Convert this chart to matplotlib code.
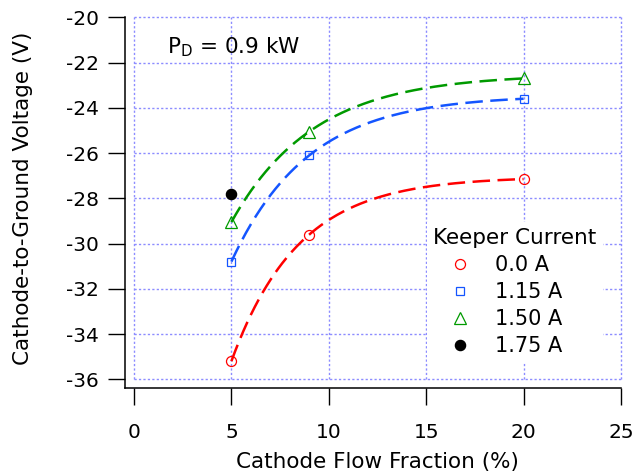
import numpy as np
import matplotlib
matplotlib.use("Agg")
import matplotlib.pyplot as plt

# ---- data ----
flow = [5, 9, 20]
v_0A = [-35.2, -29.6, -27.15]
v_115A = [-30.8, -26.1, -23.6]
v_150A = [-29.05, -25.05, -22.7]
flow_175 = [5]
v_175A = [-27.8]

series_labels = ["0.0 A", "1.15 A", "1.50 A", "1.75 A"]
xticks = [0, 5, 10, 15, 20, 25]
yticks = [-36, -34, -32, -30, -28, -26, -24, -22, -20]

RED, BLUE, GREEN = "#ff0000", "#1455ff", "#009a00"
GRID = "#8c8cff"

plt.rcParams["font.family"] = ["DejaVu Sans"]
plt.rcParams["mathtext.fontset"] = "dejavusans"
plt.rcParams["axes.unicode_minus"] = False


def exp_fit(x, y):
    """Fit y = y0 + A*exp(-k x) (like an Igor exp fit) and return a smooth curve."""
    x = np.asarray(x, float)
    y = np.asarray(y, float)
    best = None
    for k in np.linspace(0.005, 1.5, 3000):
        M = np.column_stack([np.ones_like(x), np.exp(-k * x)])
        coef, *_ = np.linalg.lstsq(M, y, rcond=None)
        r = np.sum((M @ coef - y) ** 2)
        if best is None or r < best[0]:
            best = (r, k, coef)
    _, k, coef = best
    xs = np.linspace(x.min(), x.max(), 300)
    return xs, coef[0] + coef[1] * np.exp(-k * xs)


W, H, DPI = 639, 472, 100
fig = plt.figure(figsize=(W / DPI, H / DPI), dpi=DPI)
ax = fig.add_axes([134 / W, 1 - 379.3 / H, (621 - 134) / W, (379.3 - 17.3) / H])

ax.set_xlim(0, 25)
ax.set_ylim(-36, -20)

# fitted dashed curves
dash = dict(lw=1.8, dashes=(7, 3))
for xs_, ys_, c in [(flow, v_0A, RED), (flow, v_115A, BLUE), (flow, v_150A, GREEN)]:
    fx, fy = exp_fit(xs_, ys_)
    ax.plot(fx, fy, color=c, zorder=3, **dash)

mew = 0.9
h0, = ax.plot(flow, v_0A, "o", ms=7.2, mfc="none", mec=RED, mew=mew, zorder=4)
h1, = ax.plot(flow, v_115A, "s", ms=6.4, mfc="none", mec=BLUE, mew=mew, zorder=4)
h2, = ax.plot(flow, v_150A, "^", ms=8, mfc="none", mec=GREEN, mew=mew, zorder=4)
h3, = ax.plot(flow_175, v_175A, "o", ms=7.4, mfc="black", mec="black", mew=mew, zorder=4)

# axes styling (Igor-like detached axes)
ax.spines["top"].set_visible(False)
ax.spines["right"].set_visible(False)
ax.spines["left"].set_position(("outward", 6.7))
ax.spines["bottom"].set_position(("outward", 6.5))
ax.spines["left"].set_bounds(-36.4, -20)
ax.spines["bottom"].set_bounds(-0.48, 25)
for s in ("left", "bottom"):
    ax.spines[s].set_linewidth(1.1)

ax.set_xticks(xticks)
ax.set_yticks(yticks)
ax.tick_params(axis="both", direction="out", length=12.3, width=1.0, labelsize=14.5)
ax.tick_params(axis="y", pad=6.3)
ax.tick_params(axis="x", pad=12.5)

ax.grid(True, color=GRID, linestyle=(0, (1.6, 1.6)), linewidth=1.0, zorder=0)
ax.set_axisbelow(True)
for gl in ax.get_xgridlines() + ax.get_ygridlines():
    gl.set_clip_on(False)

ax.set_xlabel("Cathode Flow Fraction (%)", fontsize=15.5, labelpad=7.5)
ax.set_ylabel("Cathode-to-Ground Voltage (V)", fontsize=15.5, labelpad=24)

ax.text(1.7, -21.3, r"P$_{\rm D}$ = 0.9 kW", fontsize=15.5, va="center", ha="left")

leg = ax.legend([h0, h1, h2, h3], series_labels, title="Keeper Current",
                loc="upper left", bbox_to_anchor=(0.6016, 0.434),
                fontsize=15, title_fontsize=15.5, alignment="left",
                frameon=True, fancybox=False, framealpha=1.0,
                facecolor="white", edgecolor="none",
                borderpad=0.3, handlelength=2.6, handletextpad=0.35,
                labelspacing=0.33, borderaxespad=0, numpoints=1)
leg.set_zorder(5)

fig.savefig("out.png", dpi=DPI)
